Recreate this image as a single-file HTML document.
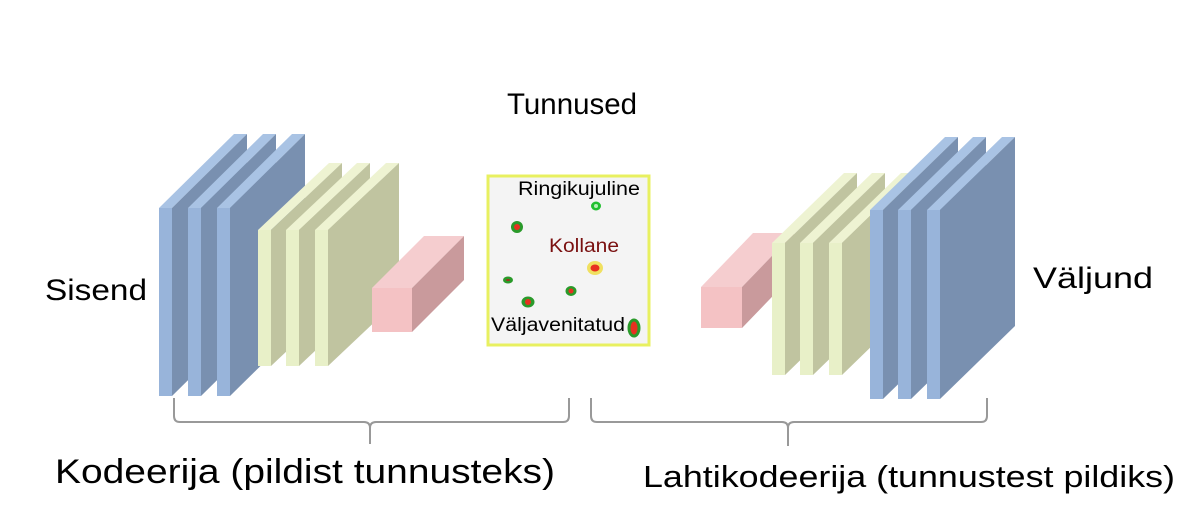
<!DOCTYPE html>
<html><head><meta charset="utf-8"><style>body{margin:0;background:#fff}svg{display:block}text{font-family:"Liberation Sans","DejaVu Sans",sans-serif}</style></head>
<body>
<svg width="1200" height="525" viewBox="0 0 1200 525" xmlns="http://www.w3.org/2000/svg">
<polygon points="159,208 172,208 247,134 234,134" fill="#a9c3e4"/><polygon points="172,208 247,134 247,322 172,396" fill="#7990b0"/><rect x="159" y="208" width="13" height="188" fill="#98b4da"/>
<polygon points="188,208 201,208 276,134 263,134" fill="#a9c3e4"/><polygon points="201,208 276,134 276,322 201,396" fill="#7990b0"/><rect x="188" y="208" width="13" height="188" fill="#98b4da"/>
<polygon points="217,208 230,208 305,134 292,134" fill="#a9c3e4"/><polygon points="230,208 305,134 305,322 230,396" fill="#7990b0"/><rect x="217" y="208" width="13" height="188" fill="#98b4da"/>
<polygon points="258,230 271,230 342,163 329,163" fill="#eef3d2"/><polygon points="271,230 342,163 342,299 271,366" fill="#c0c4a0"/><rect x="258" y="230" width="13" height="136" fill="#e8f0c8"/>
<polygon points="286,230 299,230 370,163 357,163" fill="#eef3d2"/><polygon points="299,230 370,163 370,299 299,366" fill="#c0c4a0"/><rect x="286" y="230" width="13" height="136" fill="#e8f0c8"/>
<polygon points="315,230 328,230 399,163 386,163" fill="#eef3d2"/><polygon points="328,230 399,163 399,299 328,366" fill="#c0c4a0"/><rect x="315" y="230" width="13" height="136" fill="#e8f0c8"/>
<polygon points="372,288 412,288 464,236 424,236" fill="#f5cdcf"/><polygon points="412,288 464,236 464,280 412,332" fill="#c99a9c"/><rect x="372" y="288" width="40" height="44" fill="#f4c2c4"/>
<polygon points="701,287 742,287 794,233 753,233" fill="#f5cdcf"/><polygon points="742,287 794,233 794,274 742,328" fill="#c99a9c"/><rect x="701" y="287" width="41" height="41" fill="#f4c2c4"/>
<polygon points="772,243 785,243 857,173 844,173" fill="#eef3d2"/><polygon points="785,243 857,173 857,305 785,375" fill="#c0c4a0"/><rect x="772" y="243" width="13" height="132" fill="#e8f0c8"/>
<polygon points="800,243 813,243 885,173 872,173" fill="#eef3d2"/><polygon points="813,243 885,173 885,305 813,375" fill="#c0c4a0"/><rect x="800" y="243" width="13" height="132" fill="#e8f0c8"/>
<polygon points="829,243 842,243 914,173 901,173" fill="#eef3d2"/><polygon points="842,243 914,173 914,305 842,375" fill="#c0c4a0"/><rect x="829" y="243" width="13" height="132" fill="#e8f0c8"/>
<polygon points="870,210 883,210 958,137 945,137" fill="#a9c3e4"/><polygon points="883,210 958,137 958,326 883,399" fill="#7990b0"/><rect x="870" y="210" width="13" height="189" fill="#98b4da"/>
<polygon points="898,210 911,210 986,137 973,137" fill="#a9c3e4"/><polygon points="911,210 986,137 986,326 911,399" fill="#7990b0"/><rect x="898" y="210" width="13" height="189" fill="#98b4da"/>
<polygon points="927,210 940,210 1015,137 1002,137" fill="#a9c3e4"/><polygon points="940,210 1015,137 1015,326 940,399" fill="#7990b0"/><rect x="927" y="210" width="13" height="189" fill="#98b4da"/>
<rect x="488" y="176" width="161" height="169" fill="#f4f4f4" stroke="#e8f060" stroke-width="3"/>
<text x="518" y="195" font-size="19" textLength="122" lengthAdjust="spacingAndGlyphs" fill="#000">Ringikujuline</text>
<text x="549" y="252" font-size="19" textLength="70" lengthAdjust="spacingAndGlyphs" fill="#7a1010">Kollane</text>
<text x="491" y="331" font-size="19" textLength="134" lengthAdjust="spacingAndGlyphs" fill="#000">Väljavenitatud</text>
<ellipse cx="596" cy="206" rx="5" ry="4.5" fill="#22c030"/><ellipse cx="596" cy="206" rx="2" ry="2" fill="#b8f0b8"/>
<ellipse cx="517" cy="227" rx="6" ry="6" fill="#2a9a2a"/><ellipse cx="517" cy="227" rx="3" ry="3" fill="#e83020"/>
<ellipse cx="595" cy="268" rx="8" ry="7" fill="#f0e060"/><ellipse cx="595" cy="268" rx="4.5" ry="3.5" fill="#e83020"/>
<ellipse cx="508" cy="280" rx="5" ry="3.5" fill="#2a9a2a"/><ellipse cx="508" cy="280" rx="2" ry="1" fill="#a03020"/>
<ellipse cx="571" cy="291" rx="5.5" ry="5" fill="#2a9a2a"/><ellipse cx="571" cy="291" rx="2.5" ry="2.5" fill="#e83020"/>
<ellipse cx="528" cy="302" rx="6.5" ry="5.5" fill="#2a9a2a"/><ellipse cx="528" cy="302" rx="3" ry="3" fill="#e83020"/>
<ellipse cx="634" cy="328" rx="6.5" ry="9.5" fill="#2a9a2a"/><ellipse cx="634" cy="328" rx="3.5" ry="6.5" fill="#e83020"/>
<path d="M174,398 L174,416 Q174,422 180,422 L364,422 Q370,422 370,428 L370,444 M370,428 Q370,422 376,422 L563,422 Q569,422 569,416 L569,398" fill="none" stroke="#999" stroke-width="2"/>
<path d="M591,398 L591,416 Q591,422 597,422 L782,422 Q788,422 788,428 L788,446 M788,428 Q788,422 794,422 L981,422 Q987,422 987,416 L987,398" fill="none" stroke="#999" stroke-width="2"/>
<text x="572" y="114" font-size="30" text-anchor="middle" textLength="130" lengthAdjust="spacingAndGlyphs">Tunnused</text>
<text x="45" y="300" font-size="30" textLength="102" lengthAdjust="spacingAndGlyphs">Sisend</text>
<text x="1033" y="288" font-size="30" textLength="120" lengthAdjust="spacingAndGlyphs">Väljund</text>
<text x="55" y="483" font-size="34" textLength="500" lengthAdjust="spacingAndGlyphs">Kodeerija (pildist tunnusteks)</text>
<text x="643" y="487" font-size="31" textLength="532" lengthAdjust="spacingAndGlyphs">Lahtikodeerija (tunnustest pildiks)</text>
</svg>
</body></html>
